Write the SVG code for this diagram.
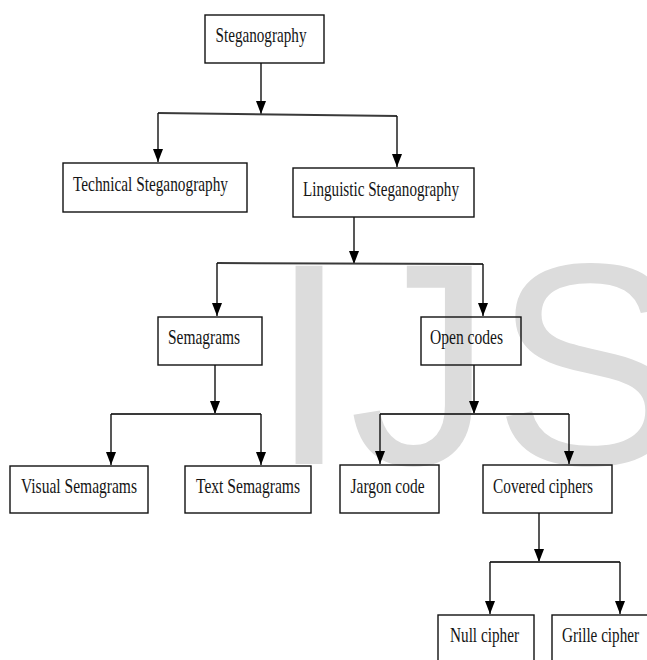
<svg xmlns="http://www.w3.org/2000/svg" width="647" height="660" viewBox="0 0 647 660">
  <style>
    .box { fill: none; stroke: #111; stroke-width: 1.4; }
    .lbl { font-family: "Liberation Serif", "Times New Roman", serif; font-size: 22px; fill: #151515; }
    .stem { stroke: #111; stroke-width: 1.4; fill: none; }
    .bus { stroke: #3a3a3a; stroke-width: 2; fill: none; }
    .mark { font-family: "Liberation Sans", Arial, sans-serif; font-size: 288px; fill: #dcdcdc; }
  </style>
  <defs>
    <marker id="arrow" markerUnits="userSpaceOnUse" markerWidth="13" markerHeight="10" refX="13" refY="5" orient="auto" viewBox="0 0 13 10">
      <path d="M0,0 L13,5 L0,10 Z" fill="#000"/>
    </marker>
  </defs>

  <rect width="647" height="660" fill="#fff"/>

  <!-- background watermark lettering -->
  <text class="mark" x="269" y="464">IJS</text>

  <!-- connectors -->
  <g id="connectors">
    <!-- Steganography -> two branches -->
    <line class="stem" x1="261" y1="63" x2="261" y2="114" marker-end="url(#arrow)"/>
    <path class="bus" d="M158,113 L397,116"/>
    <line class="stem" x1="158" y1="113" x2="158" y2="162" marker-end="url(#arrow)"/>
    <line class="stem" x1="397" y1="116" x2="397" y2="167" marker-end="url(#arrow)"/>

    <!-- Linguistic Steganography -> two branches -->
    <line class="stem" x1="354" y1="217" x2="354" y2="264" marker-end="url(#arrow)"/>
    <path class="bus" d="M217,263 L483,264"/>
    <line class="stem" x1="217" y1="263" x2="217" y2="316" marker-end="url(#arrow)"/>
    <line class="stem" x1="483" y1="264" x2="483" y2="316" marker-end="url(#arrow)"/>

    <!-- Semagrams -> two branches -->
    <line class="stem" x1="215" y1="365" x2="215" y2="414" marker-end="url(#arrow)"/>
    <path class="bus" d="M111,414 L261,414"/>
    <line class="stem" x1="111" y1="414" x2="111" y2="465" marker-end="url(#arrow)"/>
    <line class="stem" x1="261" y1="414" x2="261" y2="465" marker-end="url(#arrow)"/>

    <!-- Open codes -> two branches -->
    <line class="stem" x1="474" y1="365" x2="474" y2="414" marker-end="url(#arrow)"/>
    <path class="bus" d="M380,414 L569,414"/>
    <line class="stem" x1="380" y1="414" x2="380" y2="464" marker-end="url(#arrow)"/>
    <line class="stem" x1="569" y1="414" x2="569" y2="464" marker-end="url(#arrow)"/>

    <!-- Covered ciphers -> two branches -->
    <line class="stem" x1="539" y1="513" x2="539" y2="562" marker-end="url(#arrow)"/>
    <path class="bus" d="M490,562 L620,562"/>
    <line class="stem" x1="490" y1="562" x2="490" y2="614" marker-end="url(#arrow)"/>
    <line class="stem" x1="620" y1="562" x2="620" y2="614" marker-end="url(#arrow)"/>
  </g>

  <!-- nodes -->
  <g id="steganography">
    <rect class="box" x="205" y="15" width="119" height="48"/>
    <text class="lbl" x="215.5" y="41.5" textLength="91" lengthAdjust="spacingAndGlyphs">Steganography</text>
  </g>
  <g id="technical">
    <rect class="box" x="63" y="163" width="184" height="49"/>
    <text class="lbl" x="73" y="191" textLength="155" lengthAdjust="spacingAndGlyphs">Technical Steganography</text>
  </g>
  <g id="linguistic">
    <rect class="box" x="293" y="168" width="181" height="49"/>
    <text class="lbl" x="303" y="196" textLength="156" lengthAdjust="spacingAndGlyphs">Linguistic Steganography</text>
  </g>
  <g id="semagrams">
    <rect class="box" x="158" y="317" width="104" height="48"/>
    <text class="lbl" x="168" y="344" textLength="72" lengthAdjust="spacingAndGlyphs">Semagrams</text>
  </g>
  <g id="open-codes">
    <rect class="box" x="421" y="317" width="100" height="48"/>
    <text class="lbl" x="430" y="344" textLength="73" lengthAdjust="spacingAndGlyphs">Open codes</text>
  </g>
  <g id="visual-semagrams">
    <rect class="box" x="10" y="466" width="138" height="47"/>
    <text class="lbl" x="21" y="493" textLength="116" lengthAdjust="spacingAndGlyphs">Visual Semagrams</text>
  </g>
  <g id="text-semagrams">
    <rect class="box" x="185" y="466" width="126" height="47"/>
    <text class="lbl" x="196" y="493" textLength="104" lengthAdjust="spacingAndGlyphs">Text Semagrams</text>
  </g>
  <g id="jargon-code">
    <rect class="box" x="340" y="465" width="99" height="48"/>
    <text class="lbl" x="350.5" y="492.5" textLength="74" lengthAdjust="spacingAndGlyphs">Jargon code</text>
  </g>
  <g id="covered-ciphers">
    <rect class="box" x="483" y="465" width="129" height="48"/>
    <text class="lbl" x="493" y="493" textLength="100" lengthAdjust="spacingAndGlyphs">Covered ciphers</text>
  </g>
  <g id="null-cipher">
    <rect class="box" x="438" y="615" width="96" height="55"/>
    <text class="lbl" x="450" y="642" textLength="69" lengthAdjust="spacingAndGlyphs">Null cipher</text>
  </g>
  <g id="grille-cipher">
    <rect class="box" x="552" y="615" width="110" height="55"/>
    <text class="lbl" x="562" y="642" textLength="77" lengthAdjust="spacingAndGlyphs">Grille cipher</text>
  </g>
</svg>
